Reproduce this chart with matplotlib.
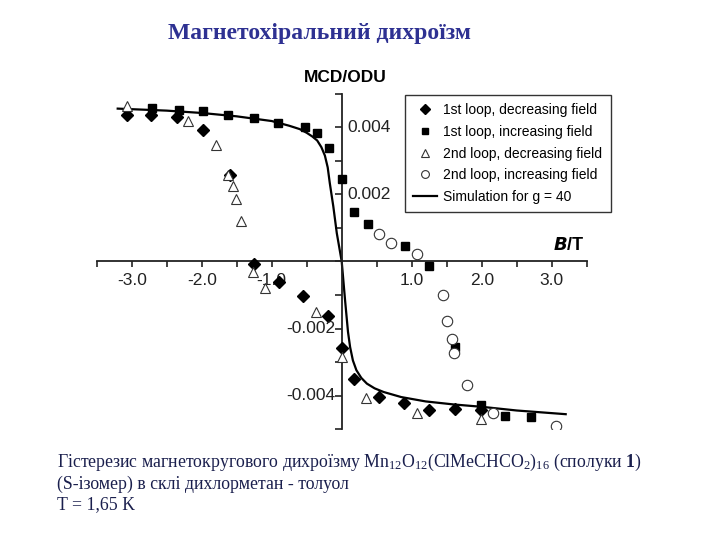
import matplotlib
matplotlib.use("Agg")
import matplotlib.pyplot as plt
import numpy as np

plt.rcParams['axes.unicode_minus'] = False
plt.rcParams['mathtext.fontset'] = 'custom'
plt.rcParams['mathtext.rm'] = 'Liberation Serif'
plt.rcParams['mathtext.bf'] = 'Liberation Serif:bold'
plt.rcParams['mathtext.it'] = 'Liberation Serif:italic'

# ---------------- data ----------------
# 1st loop, decreasing field (filled diamonds)
d1_x = [-3.07, -2.72, -2.35, -1.98, -1.60, -1.26, -0.90, -0.55, -0.20, 0.00, 0.17, 0.53, 0.89, 1.25, 1.62, 1.99]
d1_y = [4.37, 4.35, 4.29, 3.90, 2.56, -0.07, -0.61, -1.04, -1.63, -2.59, -3.51, -4.04, -4.23, -4.43, -4.41, -4.43]
# 1st loop, increasing field (filled squares)
i1_x = [-2.71, -2.33, -1.98, -1.62, -1.26, -0.91, -0.53, -0.36, -0.18, 0.01, 0.17, 0.37, 0.90, 1.25, 1.62, 1.99, 2.33, 2.70]
i1_y = [4.57, 4.50, 4.47, 4.35, 4.28, 4.13, 4.00, 3.81, 3.38, 2.46, 1.47, 1.11, 0.47, -0.13, -2.54, -4.28, -4.61, -4.63]
# 2nd loop, decreasing field (open triangles)
d2_x = [-3.07, -2.20, -1.80, -1.63, -1.56, -1.51, -1.44, -1.27, -1.09, -0.37, 0.00, 0.35, 1.07, 1.99]
d2_y = [4.62, 4.17, 3.48, 2.56, 2.26, 1.86, 1.21, -0.33, -0.78, -1.50, -2.86, -4.07, -4.51, -4.70]
# 2nd loop, increasing field (open circles)
i2_x = [0.53, 0.71, 1.08, 1.44, 1.50, 1.57, 1.60, 1.79, 2.16, 3.06]
i2_y = [0.82, 0.56, 0.21, -1.00, -1.77, -2.32, -2.74, -3.69, -4.51, -4.91]
# Simulation for g = 40 (solid line)
sim_x = [-3.2, -2.5, -2.0, -1.5, -1.0, -0.75, -0.6, -0.5, -0.42, -0.35, -0.29, -0.24, -0.2, -0.17, -0.12, -0.07, 0.0,
         0.05, 0.09, 0.12, 0.16, 0.21, 0.28, 0.36, 0.47, 0.6, 0.85, 1.2, 1.6, 2.0, 2.5, 3.2]
sim_y = [4.55, 4.49, 4.42, 4.32, 4.18, 4.04, 3.94, 3.83, 3.72, 3.60, 3.40, 3.15, 2.80, 2.33, 1.64, 0.84, 0.0,
         -1.20, -2.10, -2.55, -2.95, -3.24, -3.47, -3.64, -3.78, -3.89, -4.04, -4.17, -4.26, -4.33, -4.44, -4.55]
scale = 1e-3

x_ticks = [-3.5, -3.0, -2.5, -2.0, -1.5, -1.0, -0.5, 0.0, 0.5, 1.0, 1.5, 2.0, 2.5, 3.0, 3.5]
x_ticklabels = ['', '-3.0', '', '-2.0', '', '-1.0', '', '', '', '1.0', '', '2.0', '', '3.0', '']
y_ticks = [-0.005, -0.004, -0.003, -0.002, -0.001, 0.0, 0.001, 0.002, 0.003, 0.004, 0.005]
y_label_pos = [0.004, 0.002, -0.002, -0.004]
y_label_txt = ['0.004', '0.002', '-0.002', '-0.004']

title = "Магнетохіральний дихроїзм"
caption1 = r"Гістерезис магнетокругового дихроїзму Mn$_{12}$O$_{12}$(ClMeCHCO$_2$)$_{16}$ (сполуки $\mathbf{1}$)"
caption2 = "(S-ізомер) в склі дихлорметан - толуол"
caption3 = "T = 1,65 K"

# ---------------- figure ----------------
fig = plt.figure(figsize=(7.2, 5.4), dpi=100)
ax = fig.add_axes([96.7/720, 1-429.3/540, (586.7-96.7)/720, (429.3-93.5)/540])
ax.set_xlim(-3.5, 3.5)
ax.set_ylim(-0.005, 0.005)
ax.patch.set_alpha(0)

for s in ['top', 'right']:
    ax.spines[s].set_visible(False)
ax.spines['left'].set_position(('data', 0))
ax.spines['bottom'].set_position(('data', 0))
for s in ['left', 'bottom']:
    ax.spines[s].set_linewidth(1.3)
    ax.spines[s].set_color('#222222')

sans = 'Liberation Sans'
ax.set_xticks(x_ticks)
ax.set_xticklabels(x_ticklabels, fontsize=12.5, family=sans)
ax.tick_params(axis='x', direction='out', length=4, width=1.2, pad=4, colors='#222222')
ax.set_yticks(y_ticks)
ax.set_yticklabels([])
ax.tick_params(axis='y', direction='out', length=5, width=1.2, colors='#222222')

ax.plot(np.array(sim_x), np.array(sim_y)*scale, '-', color='black', lw=1.6, zorder=2,
        label='Simulation for g = 40')
ax.plot(np.array(d1_x), np.array(d1_y)*scale, 'D', color='black', ms=6.5, ls='none', zorder=3,
        label='1st loop, decreasing field')
ax.plot(np.array(i1_x), np.array(i1_y)*scale, 's', color='black', ms=6, ls='none', zorder=3,
        label='1st loop, increasing field')
ax.plot(np.array(d2_x), np.array(d2_y)*scale, '^', mfc='white', mec='#333333', mew=0.8, ms=7.5, ls='none', zorder=4,
        label='2nd loop, decreasing field')
ax.plot(np.array(i2_x), np.array(i2_y)*scale, 'o', mfc='white', mec='#333333', mew=0.8, ms=7.5, ls='none', zorder=4,
        label='2nd loop, increasing field')

for v, t in zip(y_label_pos, y_label_txt):
    if v > 0:
        ax.text(0.08, v, t, ha='left', va='center', fontsize=12.5, family=sans, color='#222222')
    else:
        ax.text(-0.09, v, t, ha='right', va='center', fontsize=12.5, family=sans, color='#222222')

fig.text(345/720, 1-77/540, 'MCD/ODU', ha='center', va='center', fontsize=12.5,
         fontweight='bold', family=sans)
fig.text(585/720, 1-245/540, r'$\boldsymbol{B}$/T', ha='right', va='center', fontsize=13,
         fontweight='bold', family=sans)

handles, labels = ax.get_legend_handles_labels()
order = [1, 2, 3, 4, 0]
leg = ax.legend([handles[i] for i in order], [labels[i] for i in order],
                loc='upper left', bbox_to_anchor=(405/720, 1-95/540), bbox_transform=fig.transFigure,
                borderaxespad=0, frameon=True, fancybox=False,
                prop={'family': sans, 'size': 10}, handlelength=1.7, handletextpad=0.45,
                labelspacing=0.55, borderpad=0.6, markerscale=0.75)
leg.get_frame().set_edgecolor('black')
leg.get_frame().set_linewidth(1.0)

fig.text(320/720, 1-33/540, title, ha='center', va='center', fontsize=17, fontweight='bold',
         family='Liberation Serif', color='#2E3192')

cap_color = '#1a1f4d'
fig.text(57/720, 1-467/540, caption1, ha='left', va='baseline', fontsize=12.8,
         family='Liberation Serif', color=cap_color)
fig.text(57/720, 1-489/540, caption2, ha='left', va='baseline', fontsize=12.8,
         family='Liberation Serif', color=cap_color)
fig.text(57/720, 1-509/540, caption3, ha='left', va='baseline', fontsize=12.8,
         family='Liberation Serif', color=cap_color)

fig.savefig('out.png', dpi=100)
